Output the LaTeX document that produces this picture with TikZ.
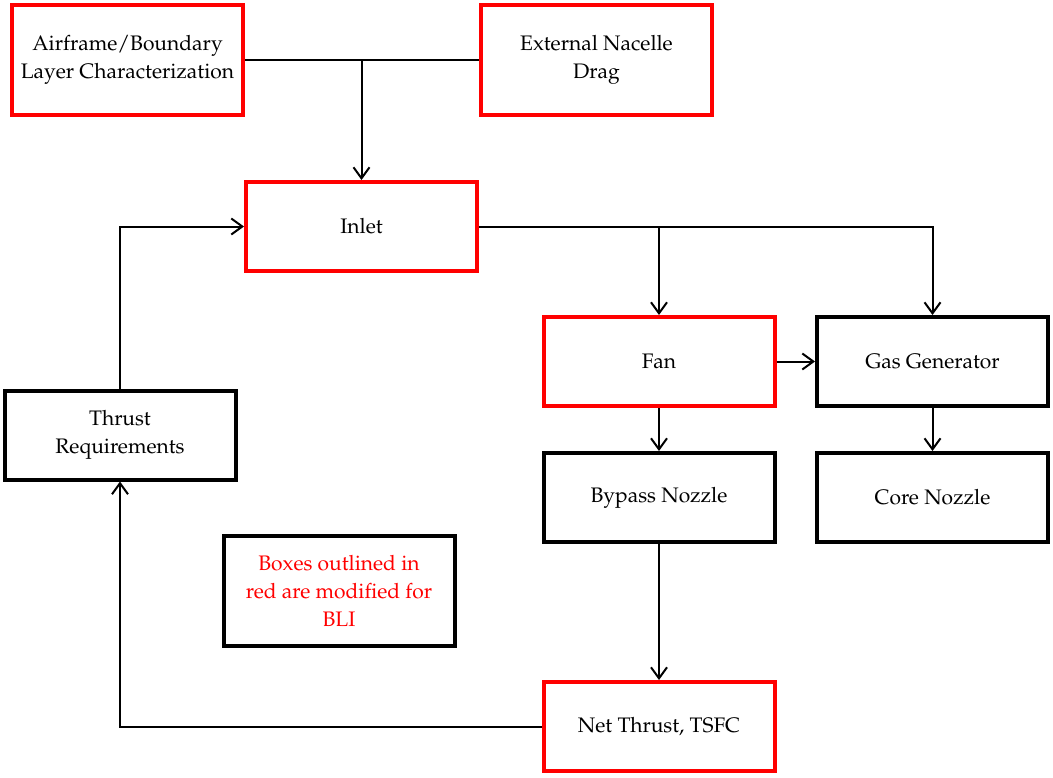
\documentclass[tikz,border=0pt]{standalone}
\usepackage[T1]{fontenc}
\usepackage{mathpazo}
\usepackage{tikz}
\usetikzlibrary{arrows.meta}

\begin{document}
\begin{tikzpicture}[x=0.5pt, y=-0.5pt,
    box/.style={draw, line width=2pt, minimum width=115.5pt, minimum height=44.5pt,
                align=center, font=\fontsize{10.5}{14}\selectfont, inner sep=0pt},
    tallbox/.style={box, minimum height=55pt},
    redbox/.style={box, draw=red},
    link/.style={line width=1pt},
    arr/.style={link, -{Straight Barb[length=5.5pt, width=8pt]}}]
    \useasboundingbox (0, 0) rectangle (1053, 777);

    % Top row
    \node[redbox, tallbox, draw=red] (airframe) at (127.5, 60) {Airframe/Boundary\\Layer Characterization};
    \node[redbox, tallbox, draw=red] (nacelle) at (596.5, 60) {External Nacelle\\Drag};
    \node[redbox] (inlet) at (361.5, 226.5) {Inlet};

    % Engine components
    \node[redbox] (fan) at (659, 361.5) {Fan};
    \node[box] (gasgen) at (932.5, 361.5) {Gas Generator};
    \node[box] (bypass) at (659, 497.5) {Bypass Nozzle};
    \node[box] (core) at (932.5, 497.5) {Core Nozzle};
    \node[redbox] (net) at (659, 726.5) {Net Thrust, TSFC};

    % Left side
    \node[box] (thrust) at (120, 435) {Thrust\\Requirements};
    \node[tallbox, text=red] (note) at (339, 591) {Boxes outlined in\\red are modified for\\BLI};

    % Connections
    \draw[link] (airframe.east) -- (nacelle.west);
    \draw[arr] (inlet.north |- airframe.east) -- (inlet.north);
    \draw[arr] (inlet.east) -| (gasgen.north);
    \draw[arr] (fan.north |- inlet.east) -- (fan.north);
    \draw[arr] (fan) -- (gasgen);
    \draw[arr] (fan) -- (bypass);
    \draw[arr] (gasgen) -- (core);
    \draw[arr] (bypass) -- (net);
    \draw[arr] (net.west) -| (thrust.south);
    \draw[arr] (thrust.north) |- (inlet.west);
\end{tikzpicture}
\end{document}
